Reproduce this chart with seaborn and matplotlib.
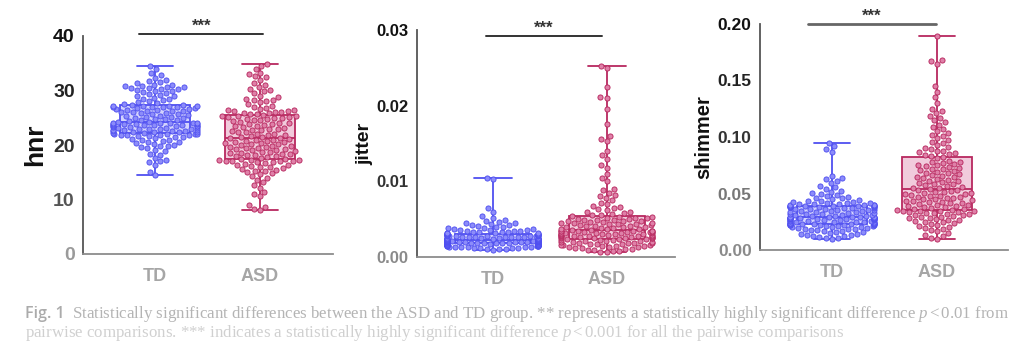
import warnings
import matplotlib
matplotlib.use("Agg")
import matplotlib.pyplot as plt
import pandas as pd
import seaborn as sns

warnings.filterwarnings("ignore")

groups = ["TD", "ASD"]

hnr_td = [
    14.5, 15.1, 16.3, 16.8, 17.0, 17.3, 17.6, 18.2, 18.4, 18.9,
    19.1, 19.4, 19.6, 19.8, 19.9, 20.0, 20.2, 20.3, 20.5, 20.6,
    20.8, 20.9, 21.0, 21.1, 21.3, 21.4, 21.5, 21.6, 21.7, 21.8,
    21.8, 21.9, 21.9, 22.0, 22.0, 22.1, 22.1,
    22.2, 22.2, 22.3, 22.3, 22.4, 22.4, 22.5, 22.6, 22.6, 22.7,
    22.7, 22.8, 22.9, 22.9, 23.0, 23.0, 23.1, 23.1, 23.2, 23.3,
    23.3, 23.4, 23.4, 23.5, 23.5, 23.6, 23.6, 23.7, 23.7, 23.8,
    23.8, 23.9, 23.9, 24.0, 24.0, 24.0, 24.1, 24.1,
    24.2, 24.3, 24.4, 24.5, 24.6, 24.7, 24.8, 24.9, 25.0, 25.1,
    25.2, 25.3, 25.4, 25.5, 25.6, 25.7, 25.8, 25.9, 26.0, 26.1,
    26.2, 26.3, 26.3, 26.4, 26.5, 26.6, 26.6, 26.7, 26.8, 26.9,
    26.9, 27.0, 27.0, 27.1, 27.1, 27.2, 27.2,
    27.3, 27.4, 27.5, 27.7, 27.8, 28.0, 28.2, 28.4, 28.5, 28.7,
    28.9, 29.0, 29.2, 29.4, 29.5, 29.7, 29.9, 30.0, 30.1, 30.2,
    30.3, 30.4, 30.5, 30.6, 30.7, 30.8, 30.9, 31.0, 31.1, 31.3,
    31.5, 31.7, 31.9, 32.3, 32.8, 33.2, 34.0, 34.5,
]
hnr_asd = [
    8.0, 8.3, 8.6, 9.0, 10.6, 11.0, 11.4, 12.2, 12.6, 13.2,
    13.6, 14.0, 14.3, 14.6, 14.8, 15.0, 15.2, 15.3, 15.5, 15.6,
    15.8, 15.9, 16.0, 16.2, 16.3, 16.4, 16.6, 16.7, 16.8, 16.9,
    17.0, 17.0, 17.1, 17.1, 17.2, 17.2, 17.3,
    17.4, 17.5, 17.6, 17.8, 17.9, 18.0, 18.1, 18.2, 18.3, 18.4,
    18.5, 18.6, 18.7, 18.8, 18.9, 19.0, 19.1, 19.2, 19.3, 19.4,
    19.5, 19.6, 19.7, 19.8, 19.9, 20.0, 20.1, 20.2, 20.3, 20.4,
    20.5, 20.6, 20.7, 20.8, 20.9, 21.0, 21.1, 21.2,
    21.3, 21.4, 21.5, 21.6, 21.8, 21.9, 22.0, 22.1, 22.3, 22.4,
    22.5, 22.7, 22.8, 22.9, 23.0, 23.2, 23.3, 23.4, 23.5, 23.7,
    23.8, 23.9, 24.0, 24.1, 24.3, 24.4, 24.5, 24.6, 24.7, 24.8,
    24.9, 25.0, 25.1, 25.2, 25.3, 25.3, 25.4,
    25.5, 25.6, 25.7, 25.8, 25.9, 26.0, 26.1, 26.2, 26.3, 26.4,
    26.5, 26.6, 26.8, 27.0, 27.2, 27.5, 27.8, 28.0, 28.2, 28.3,
    28.5, 28.8, 29.0, 29.5, 29.9, 30.1, 30.3, 30.6, 31.0, 31.4,
    32.0, 32.4, 32.7, 33.0, 33.3, 34.0, 34.5, 34.8,
]

jitter_td = [
    0.00098, 0.00104, 0.00108, 0.00112, 0.00115, 0.00118, 0.00121, 0.00124, 0.00126, 0.00129,
    0.00131, 0.00133, 0.00136, 0.00138, 0.00140, 0.00142, 0.00144, 0.00146, 0.00148, 0.00150,
    0.00152, 0.00153, 0.00155, 0.00157, 0.00158, 0.00160, 0.00162, 0.00163, 0.00165, 0.00167,
    0.00168, 0.00170, 0.00172, 0.00173, 0.00175, 0.00177, 0.00179,
    0.00180, 0.00181, 0.00183, 0.00184, 0.00186, 0.00187, 0.00189, 0.00190, 0.00191, 0.00193,
    0.00194, 0.00195, 0.00197, 0.00198, 0.00199, 0.00200, 0.00202, 0.00203, 0.00204, 0.00205,
    0.00207, 0.00208, 0.00209, 0.00210, 0.00211, 0.00212, 0.00213, 0.00214, 0.00215, 0.00216,
    0.00217, 0.00218, 0.00219, 0.00220, 0.00221, 0.00222, 0.00223, 0.00224,
    0.00226, 0.00228, 0.00230, 0.00232, 0.00234, 0.00236, 0.00238, 0.00240, 0.00242, 0.00244,
    0.00246, 0.00248, 0.00250, 0.00252, 0.00254, 0.00256, 0.00258, 0.00260, 0.00262, 0.00264,
    0.00266, 0.00268, 0.00270, 0.00272, 0.00274, 0.00276, 0.00278, 0.00280, 0.00282, 0.00284,
    0.00286, 0.00288, 0.00290, 0.00292, 0.00295, 0.00297, 0.00300,
    0.00303, 0.00306, 0.00309, 0.00312, 0.00315, 0.00318, 0.00321, 0.00324, 0.00328, 0.00332,
    0.00336, 0.00340, 0.00344, 0.00348, 0.00352, 0.00357, 0.00362, 0.00368, 0.00374, 0.00380,
    0.00387, 0.00394, 0.00402, 0.00410, 0.00418, 0.00427, 0.00436, 0.00445, 0.00455, 0.00466,
    0.00478, 0.00492, 0.00510, 0.00540, 0.00600, 0.00650, 0.01030, 0.01050,
]
jitter_asd = [
    0.00060, 0.00070, 0.00078, 0.00085, 0.00092, 0.00098, 0.00104, 0.00110, 0.00116, 0.00121,
    0.00126, 0.00131, 0.00136, 0.00141, 0.00146, 0.00150, 0.00155, 0.00159, 0.00163, 0.00167,
    0.00171, 0.00175, 0.00179, 0.00183, 0.00187, 0.00191, 0.00195, 0.00199, 0.00203, 0.00207,
    0.00211, 0.00215, 0.00219, 0.00224, 0.00229, 0.00234, 0.00239,
    0.00242, 0.00245, 0.00248, 0.00251, 0.00254, 0.00257, 0.00260, 0.00263, 0.00266, 0.00269,
    0.00272, 0.00275, 0.00278, 0.00281, 0.00284, 0.00287, 0.00290, 0.00293, 0.00296, 0.00299,
    0.00302, 0.00305, 0.00308, 0.00311, 0.00314, 0.00317, 0.00320, 0.00323, 0.00326, 0.00329,
    0.00332, 0.00335, 0.00338, 0.00341, 0.00344, 0.00346, 0.00348, 0.00350,
    0.00355, 0.00360, 0.00365, 0.00370, 0.00375, 0.00380, 0.00385, 0.00390, 0.00395, 0.00400,
    0.00405, 0.00410, 0.00415, 0.00420, 0.00425, 0.00430, 0.00435, 0.00440, 0.00445, 0.00450,
    0.00455, 0.00460, 0.00465, 0.00470, 0.00475, 0.00480, 0.00485, 0.00490, 0.00495, 0.00500,
    0.00505, 0.00510, 0.00515, 0.00520, 0.00525, 0.00530, 0.00540,
    0.00550, 0.00560, 0.00570, 0.00580, 0.00590, 0.00600, 0.00615, 0.00630, 0.00645, 0.00660,
    0.00680, 0.00700, 0.00720, 0.00750, 0.00780, 0.00800, 0.00820, 0.00850, 0.00880, 0.00900,
    0.01000, 0.01050, 0.01100, 0.01180, 0.01220, 0.01300, 0.01350, 0.01400, 0.01530, 0.01560,
    0.01600, 0.01760, 0.01960, 0.02100, 0.02110, 0.02250, 0.02500, 0.02520,
]

shimmer_td = [
    0.0100, 0.0105, 0.0110, 0.0115, 0.0120, 0.0125, 0.0130, 0.0135, 0.0140, 0.0145,
    0.0150, 0.0155, 0.0160, 0.0165, 0.0170, 0.0174, 0.0178, 0.0182, 0.0186, 0.0190,
    0.0194, 0.0198, 0.0201, 0.0204, 0.0207, 0.0210, 0.0213, 0.0216, 0.0218, 0.0220,
    0.0222, 0.0224, 0.0225, 0.0226, 0.0227, 0.0228, 0.0229,
    0.0230, 0.0232, 0.0234, 0.0236, 0.0238, 0.0240, 0.0242, 0.0244, 0.0246, 0.0248,
    0.0250, 0.0252, 0.0254, 0.0256, 0.0258, 0.0260, 0.0262, 0.0264, 0.0266, 0.0268,
    0.0270, 0.0272, 0.0274, 0.0276, 0.0278, 0.0280, 0.0281, 0.0282, 0.0283, 0.0284,
    0.0285, 0.0286, 0.0287, 0.0288, 0.0289, 0.0290, 0.0292, 0.0294,
    0.0296, 0.0299, 0.0302, 0.0305, 0.0308, 0.0311, 0.0314, 0.0317, 0.0320, 0.0323,
    0.0326, 0.0329, 0.0332, 0.0335, 0.0338, 0.0341, 0.0344, 0.0347, 0.0350, 0.0353,
    0.0356, 0.0359, 0.0362, 0.0365, 0.0368, 0.0371, 0.0374, 0.0377, 0.0380, 0.0382,
    0.0384, 0.0385, 0.0386, 0.0387, 0.0388, 0.0389, 0.0390,
    0.0392, 0.0394, 0.0396, 0.0398, 0.0400, 0.0403, 0.0406, 0.0409, 0.0412, 0.0416,
    0.0420, 0.0424, 0.0428, 0.0433, 0.0438, 0.0444, 0.0450, 0.0456, 0.0462, 0.0470,
    0.0478, 0.0486, 0.0495, 0.0505, 0.0515, 0.0525, 0.0540, 0.0555, 0.0570, 0.0590,
    0.0610, 0.0625, 0.0640, 0.0655, 0.0870, 0.0890, 0.0920, 0.0950,
]
shimmer_asd = [
    0.0100, 0.0110, 0.0120, 0.0135, 0.0150, 0.0165, 0.0175, 0.0185, 0.0195, 0.0205,
    0.0215, 0.0222, 0.0230, 0.0237, 0.0244, 0.0250, 0.0256, 0.0262, 0.0268, 0.0274,
    0.0280, 0.0286, 0.0291, 0.0296, 0.0301, 0.0306, 0.0311, 0.0316, 0.0321, 0.0326,
    0.0330, 0.0334, 0.0338, 0.0341, 0.0344, 0.0347, 0.0349,
    0.0352, 0.0357, 0.0362, 0.0367, 0.0372, 0.0377, 0.0382, 0.0387, 0.0392, 0.0397,
    0.0402, 0.0407, 0.0412, 0.0417, 0.0422, 0.0427, 0.0432, 0.0437, 0.0442, 0.0447,
    0.0452, 0.0457, 0.0462, 0.0467, 0.0472, 0.0477, 0.0482, 0.0487, 0.0492, 0.0497,
    0.0502, 0.0507, 0.0512, 0.0517, 0.0522, 0.0527, 0.0532, 0.0538,
    0.0545, 0.0552, 0.0559, 0.0566, 0.0573, 0.0580, 0.0587, 0.0594, 0.0601, 0.0608,
    0.0615, 0.0622, 0.0629, 0.0636, 0.0643, 0.0650, 0.0657, 0.0664, 0.0671, 0.0678,
    0.0685, 0.0692, 0.0699, 0.0706, 0.0713, 0.0720, 0.0727, 0.0734, 0.0741, 0.0748,
    0.0755, 0.0762, 0.0769, 0.0776, 0.0783, 0.0790, 0.0815,
    0.0825, 0.0832, 0.0840, 0.0848, 0.0856, 0.0864, 0.0872, 0.0880, 0.0890, 0.0900,
    0.0915, 0.0930, 0.0945, 0.0960, 0.0975, 0.0990, 0.1005, 0.1020, 0.1035, 0.1050,
    0.1070, 0.1090, 0.1110, 0.1130, 0.1150, 0.1170, 0.1190, 0.1210, 0.1230, 0.1250,
    0.1300, 0.1350, 0.1400, 0.1450, 0.1650, 0.1670, 0.1680, 0.1890,
]

hnr_ticks = [0, 10, 20, 30, 40]
hnr_ticklabels = ["0", "10", "20", "30", "40"]
jitter_ticks = [0.0, 0.01, 0.02, 0.03]
jitter_ticklabels = ["0.00", "0.01", "0.02", "0.03"]
shimmer_ticks = [0.0, 0.05, 0.10, 0.15, 0.20]
shimmer_ticklabels = ["0.00", "0.05", "0.10", "0.15", "0.20"]

caption_1 = ("Statistically significant differences between the ASD and TD group. ** represents "
             "a statistically highly significant difference $\\mathit{p}\\,$<$\\,$0.01 from")
caption_2 = ("pairwise comparisons. *** indicates a statistically highly significant "
             "difference $\\mathit{p}\\,$<$\\,$0.001 for all the pairwise comparisons")

sns.set_theme(style="white")
plt.rcParams["font.family"] = ["Liberation Sans", "DejaVu Sans"]
plt.rcParams["mathtext.fontset"] = "custom"
plt.rcParams["mathtext.it"] = "Liberation Serif:italic"
plt.rcParams["mathtext.rm"] = "Liberation Serif"

point_fill = {"TD": "#8c8cfa", "ASD": "#df80a8"}
point_edge = {"TD": "#4f4ff0", "ASD": "#b8285f"}
box_fill = {"TD": (0.62, 0.62, 0.99, 0.45), "ASD": (0.88, 0.55, 0.70, 0.45)}

W, H = 1036, 361
fig = plt.figure(figsize=(W / 100, H / 100), dpi=100)


def px_rect(left, top, right, bottom):
    return [left / W, 1 - bottom / H, (right - left) / W, (bottom - top) / H]


panels = [
    dict(name="hnr", td=hnr_td, asd=hnr_asd, rect=px_rect(83, 36, 333, 254),
         ylim=(0, 40), ticks=hnr_ticks, labels=hnr_ticklabels, xlim=(-0.686, 1.695),
         tick_size=14, label_size=19, label_x=-0.145,
         tick_colors=["#9a9a9a", "#555555", "#333333", "#222222", "#111111"],
         sig=(-0.15, 1.03, 1.01, 1.045), sig_color="#333333", sig_lw=1.4),
    dict(name="jitter", td=jitter_td, asd=jitter_asd, rect=px_rect(417, 30, 675, 257),
         ylim=(0, 0.03), ticks=jitter_ticks, labels=jitter_ticklabels, xlim=(-0.667, 1.6),
         tick_size=12, label_size=14, label_x=-0.17,
         tick_colors=["#8a8a8a", "#333333", "#1a1a1a", "#111111"],
         sig=(-0.06, 0.956, 0.974, 1.008), sig_color="#333333", sig_lw=1.4),
    dict(name="shimmer", td=shimmer_td, asd=shimmer_asd, rect=px_rect(760, 24, 1008, 250),
         ylim=(0, 0.20), ticks=shimmer_ticks, labels=shimmer_ticklabels, xlim=(-0.686, 1.676),
         tick_size=12.5, label_size=14.5, label_x=-0.19,
         tick_colors=["#8a8a8a", "#777777", "#333333", "#222222", "#111111"],
         sig=(-0.23, 0.99, 1.0, 1.035), sig_color="#666666", sig_lw=2.0),
]

for p in panels:
    ax = fig.add_axes(p["rect"])
    name = p["name"]
    df = pd.DataFrame({
        "group": ["TD"] * len(p["td"]) + ["ASD"] * len(p["asd"]),
        name: p["td"] + p["asd"],
    })

    for g in groups:
        sub = df[df["group"] == g]
        sns.boxplot(data=sub, x="group", y=name, order=groups, ax=ax,
                    width=0.67, whis=(0, 100), showfliers=False, saturation=1,
                    color=point_fill[g], linecolor=point_edge[g], linewidth=1.3,
                    boxprops={"facecolor": box_fill[g], "zorder": 1})
    for g in groups:
        sub = df[df["group"] == g]
        sns.swarmplot(data=sub, x="group", y=name, order=groups, ax=ax,
                      color=point_fill[g], edgecolor=point_edge[g], linewidth=0.65,
                      size=3.7, zorder=3)

    ax.set_xlim(*p["xlim"])
    ax.set_ylim(*p["ylim"])
    ax.set_yticks(p["ticks"])
    ax.set_yticklabels(p["labels"], fontsize=p["tick_size"], fontweight="bold")
    for lab, c in zip(ax.get_yticklabels(), p["tick_colors"]):
        lab.set_color(c)
    ax.set_xticks([0, 1])
    ax.set_xticklabels(groups, fontsize=13, fontweight="bold", color="#a6a6a6")
    ax.set_xlabel("")
    ax.set_ylabel(name, fontsize=p["label_size"], fontweight="bold", color="#111111")
    ax.yaxis.set_label_coords(p["label_x"], 0.5)

    for side in ["top", "right"]:
        ax.spines[side].set_visible(False)
    ax.spines["left"].set_color("#555555")
    ax.spines["left"].set_linewidth(1.3)
    ax.spines["bottom"].set_color("#8c8c8c")
    ax.spines["bottom"].set_linewidth(1.3)
    ax.tick_params(axis="y", direction="out", length=4, width=1.2, color="#555555", pad=2)
    ax.tick_params(axis="x", direction="out", length=4, width=1.2, color="#8c8c8c", pad=6)

    x0, x1, y_line, y_star = p["sig"]
    trans = ax.get_xaxis_transform()
    ax.plot([x0, x1], [y_line, y_line], color=p["sig_color"], lw=p["sig_lw"],
            transform=trans, clip_on=False)
    ax.text((x0 + x1) / 2, y_star, "***", transform=trans, ha="center", va="center",
            fontsize=12, fontweight="bold", color="#333333")

fig.text(25 / W, 1 - 318 / H, "Fig. 1", fontsize=11.5, fontweight="semibold",
         family=["Open Sans", "DejaVu Sans"], color="#ababab", va="baseline")
fig.text(72 / W, 1 - 318 / H, caption_1, fontsize=12.2, family=["Liberation Serif"],
         color="#b4b4b4", va="baseline")
fig.text(25 / W, 1 - 337 / H, caption_2, fontsize=12.2, family=["Liberation Serif"],
         color="#d0d0d0", va="baseline")

fig.savefig("out.png", dpi=100, facecolor="white")
